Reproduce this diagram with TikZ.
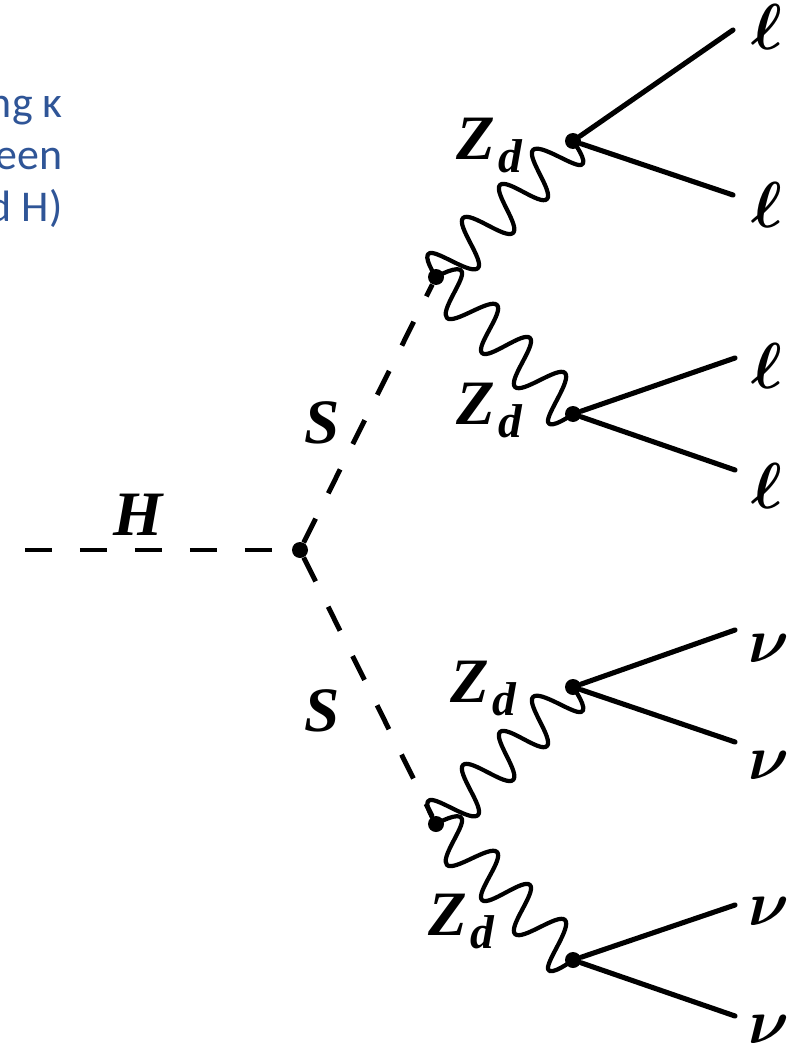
\documentclass[tikz,border=0pt]{standalone}
\usepackage{amsmath}
\usepackage{fontspec}
\usepackage{xcolor}
\usepackage{tikz}
\newfontfamily\notefont{Carlito}
\newfontfamily\tagfont{Liberation Serif}
\DeclareFontShape{OML}{cmm}{b}{it}{<->cmmib10}{}
\definecolor{cwNote}{HTML}{2F5597}
\newcommand{\bigtag}[1]{\tagfont\bfseries\itshape\fontsize{36}{40}\selectfont #1}
\newcommand{\zdlabel}{\bigtag{Z}\kern 2pt\raisebox{-7.4pt}{\fontsize{27}{30}\selectfont d}}
\newcommand{\nulabel}{\fontsize{36}{40}\selectfont$\boldsymbol{\nu}$}
\newcommand{\elllabel}{\fontsize{37}{40}\selectfont$\boldsymbol{\ell}$}
% wave shapes, offsets measured from the left vertex
\newcommand{\waveup}[2]{\draw[photon,shift={(#1)}] plot[smooth,tension=0.75] coordinates {(#1) (-6,-24) (42,-9) (27,-59) (77,-44) (64,-92) (111,-78) (97,-127) (145,-112) (#2)};}
\newcommand{\wavedown}[2]{\draw[photon,shift={(#1)}] plot[smooth,tension=0.75] coordinates {(#1) (26,-5) (11,41) (61,28) (46,76) (94,61) (79,110) (129,96) (112,145) (#2)};}
\begin{document}
\begin{tikzpicture}[x=0.02cm,y=-0.02cm,
    vertex/.style={circle,fill=black,inner sep=0pt,minimum size=0.32cm},
    leg/.style={line width=2.9pt,line cap=round},
    scalar/.style={line width=2.8pt,dash pattern=on 15.2pt off 16.1pt},
    photon/.style={line width=2.4pt,line join=round},
    tag/.style={inner sep=0pt,text=black},
    note/.style={inner sep=0pt,align=right,anchor=east,text=cwNote,font=\notefont\fontsize{25}{29.5}\selectfont}
]
  \useasboundingbox (0,0) rectangle (800,1051);

  % vertices
  \node[vertex] (vH) at (300,550) {};
  \node[vertex] (vS1) at (436,277) {};
  \node[vertex] (vS2) at (436,824) {};
  \node[vertex] (vZ1) at (573,141) {};
  \node[vertex] (vZ2) at (573,414) {};
  \node[vertex] (vZ3) at (573,687) {};
  \node[vertex] (vZ4) at (573,960) {};

  % free ends
  \coordinate (in) at (25,550);
  \coordinate (l1) at (733,30);
  \coordinate (l2) at (733,195);
  \coordinate (l3) at (735,358);
  \coordinate (l4) at (735,470);
  \coordinate (n1) at (735,630);
  \coordinate (n2) at (735,742);
  \coordinate (n3) at (735,905);
  \coordinate (n4) at (735,1016);

  % scalars
  \draw[scalar] (in) -- (vH);
  \draw[scalar] (vH) -- (vS1);
  \draw[scalar] (vH) -- (vS2);

  % dark photons
  \waveup{vS1}{vZ1}
  \wavedown{vS1}{vZ2}
  \waveup{vS2}{vZ3}
  \wavedown{vS2}{vZ4}

  % outgoing lines
  \draw[leg] (vZ1) -- (l1);
  \draw[leg] (vZ1) -- (l2);
  \draw[leg] (vZ2) -- (l3);
  \draw[leg] (vZ2) -- (l4);
  \draw[leg] (vZ3) -- (n1);
  \draw[leg] (vZ3) -- (n2);
  \draw[leg] (vZ4) -- (n3);
  \draw[leg] (vZ4) -- (n4);

  % labels
  \node[tag] (tH) at (138,515) {\bigtag{H}};
  \node[tag] (tS1) at (322,423) {\bigtag{S}};
  \node[tag] (tS2) at (322,711) {\bigtag{S}};
  \node[tag] (tZ1) at (489,146) {\zdlabel};
  \node[tag] (tZ2) at (489,411) {\zdlabel};
  \node[tag] (tZ3) at (483,689) {\zdlabel};
  \node[tag] (tZ4) at (461,922) {\zdlabel};
  \node[tag] (tl1) at (767,27) {\elllabel};
  \node[tag] (tl2) at (767,205) {\elllabel};
  \node[tag] (tl3) at (767,366) {\elllabel};
  \node[tag] (tl4) at (767,486) {\elllabel};
  \node[tag] (tn1) at (769,648) {\nulabel};
  \node[tag] (tn2) at (769,765) {\nulabel};
  \node[tag] (tn3) at (769,911) {\nulabel};
  \node[tag] (tn4) at (769,1029) {\nulabel};

  % cut off note
  \node[note] (coupling) at (63,162) {ng κ\\een\\d H)};
\end{tikzpicture}
\end{document}
